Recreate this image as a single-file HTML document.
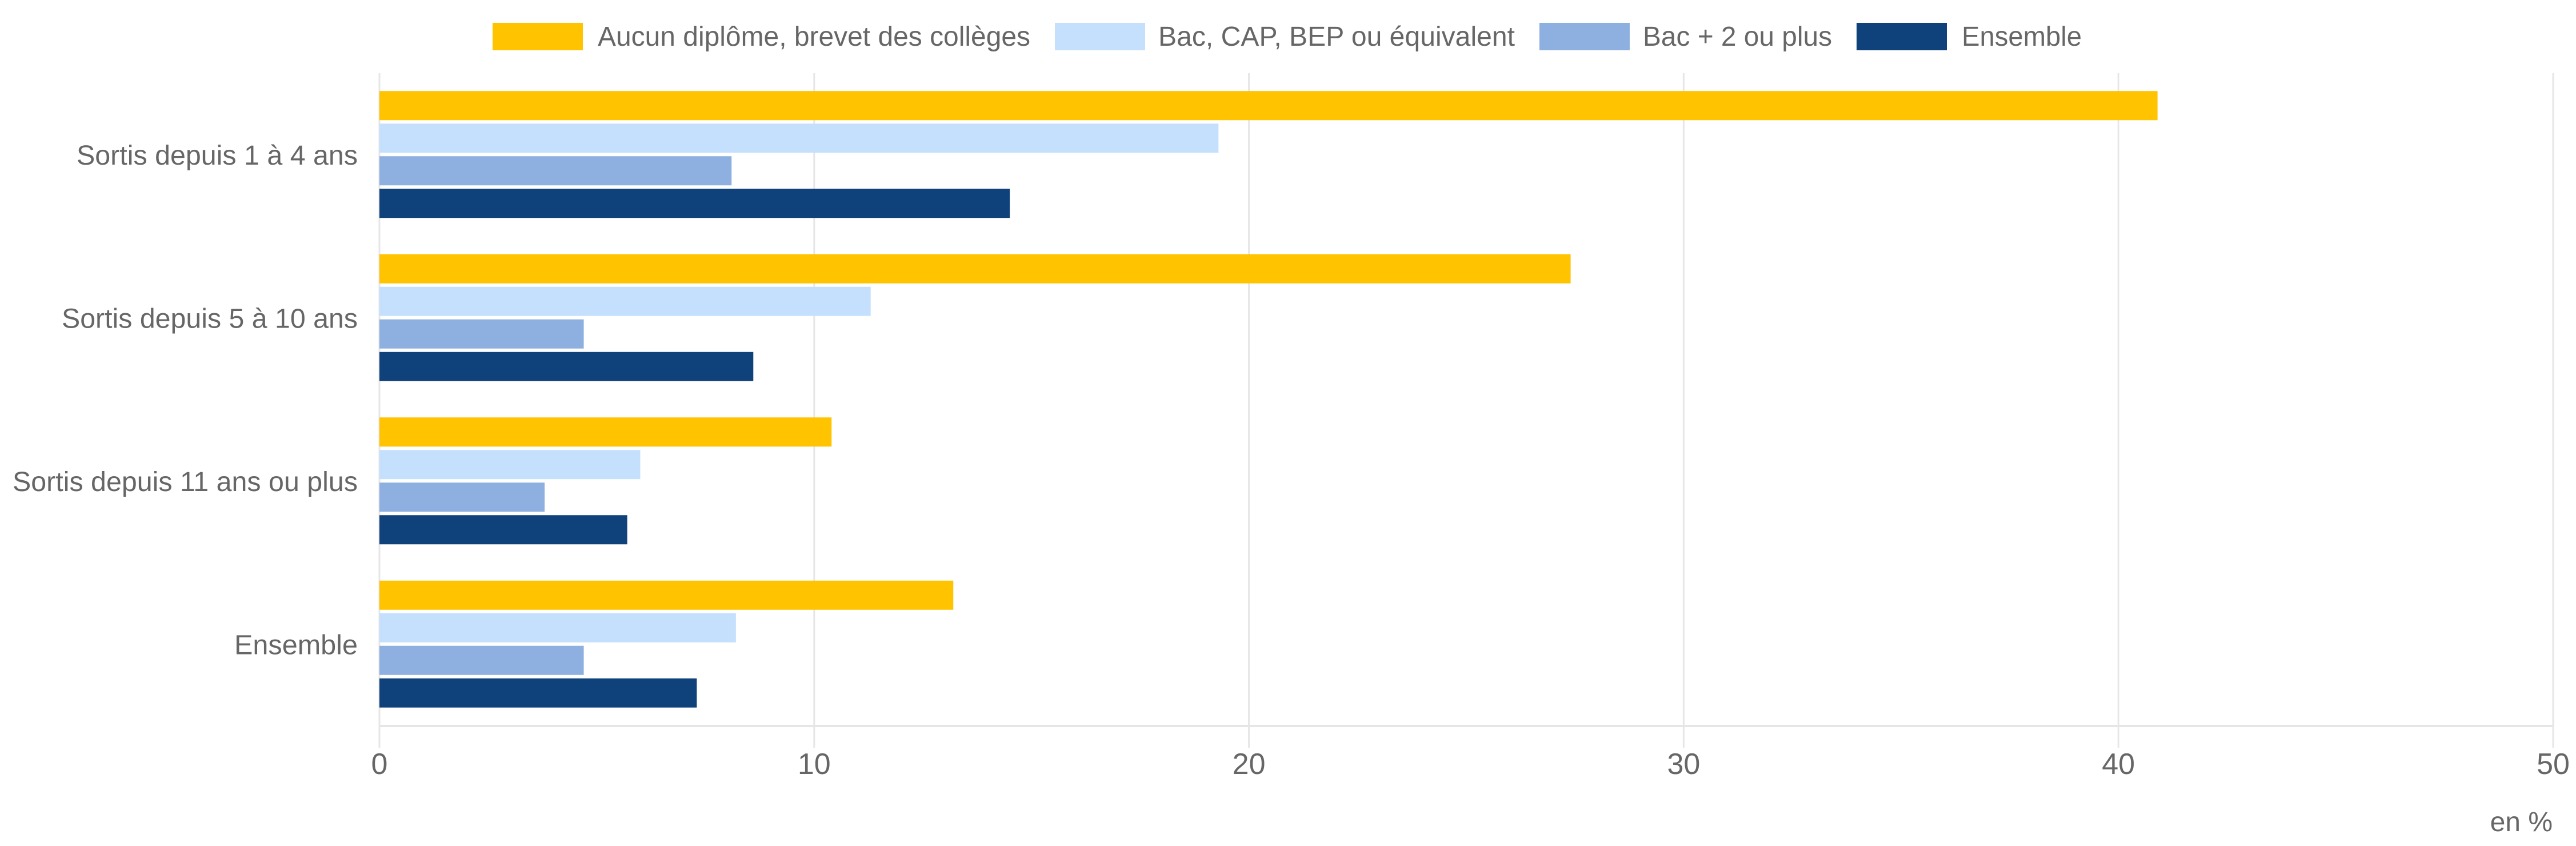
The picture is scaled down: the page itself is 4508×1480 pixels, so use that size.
<!DOCTYPE html>
<html><head><meta charset="utf-8"><style>
html,body{margin:0;padding:0;background:#fff;}
svg{display:block;font-family:"Liberation Sans",Arial,sans-serif;}
</style></head><body>
<svg id="chart" width="4508" height="1480" viewBox="0 0 4508 1480" xmlns="http://www.w3.org/2000/svg">
<g id="grid"></g>
<g id="bars"></g>
<g id="yl"></g>
<g id="xl"></g>
<g id="legend"></g>
<text x="4467" y="1454" text-anchor="end" font-size="48" fill="#666">en %</text>
</svg>
<script>
const categories = ["Sortis depuis 1 à 4 ans","Sortis depuis 5 à 10 ans","Sortis depuis 11 ans ou plus","Ensemble"];
const seriesNames = ["Aucun diplôme, brevet des collèges","Bac, CAP, BEP ou équivalent","Bac + 2 ou plus","Ensemble"];
const aucun = [40.9,27.4,10.4,13.2];
const bac = [19.3,11.3,6.0,8.2];
const bac2 = [8.1,4.7,3.8,4.7];
const ensemble = [14.5,8.6,5.7,7.3];
const xTicks = [0,10,20,30,40,50];

const series=[aucun,bac,bac2,ensemble];
const colors=["#ffc300","#c5e0fd","#8eb0e0","#0f417a"];
const NS="http://www.w3.org/2000/svg";
const X0=664,X1=4468,Y0=128,Y1=1270,XMAX=50;
const x=v=>X0+(v/XMAX)*(X1-X0);
const band=(Y1-Y0)/categories.length;
function mk(tag,attrs,parent,txt){const e=document.createElementNS(NS,tag);for(const k in attrs)e.setAttribute(k,attrs[k]);if(txt!==undefined)e.textContent=txt;parent.appendChild(e);return e;}
const grid=document.getElementById('grid');
xTicks.forEach(t=>{
  const l=mk('line',{x1:x(t),x2:x(t),y1:Y0,y2:1308,stroke:'#e6e6e6','stroke-width':3},grid);
  
  
});
const ax=mk('line',{x1:X0,x2:X1,y1:Y1,y2:Y1,stroke:'#e6e6e6','stroke-width':4},grid);


const xl=document.getElementById('xl');
xTicks.forEach(t=>{
  const e=mk('text',{x:x(t),y:1354,'text-anchor':'middle','font-size':52,fill:'#666'},xl,String(t));
  
  
});
const bars=document.getElementById('bars');
const yl=document.getElementById('yl');
const labelW=[492,518,604,216];
categories.forEach((c,i)=>{
  const cy=Y0+band*(i+0.5);
  const top=cy-111.5;
  series.forEach((s,j)=>{
    const r=mk('rect',{x:X0,y:top+j*57,width:x(s[i])-X0,height:51,fill:colors[j]},bars);
    
    
  });
  const t=mk('text',{x:626,y:cy+17,'text-anchor':'end','font-size':48,fill:'#666',textLength:labelW[i],lengthAdjust:'spacingAndGlyphs'},yl,c);
  
  
});
const lg=document.getElementById('legend');
const boxX=[862,1846,2694,3249],txtX=[1046,2027,2875,3433],txtW=[757,624,331,210];
seriesNames.forEach((n,j)=>{
  const r=mk('rect',{x:boxX[j],y:40,width:158,height:48,fill:colors[j]},lg);
  
  
  const t=mk('text',{x:txtX[j],y:80,'font-size':48,fill:'#666',textLength:txtW[j],lengthAdjust:'spacingAndGlyphs'},lg,n);
  
  
});
</script>
</body></html>
